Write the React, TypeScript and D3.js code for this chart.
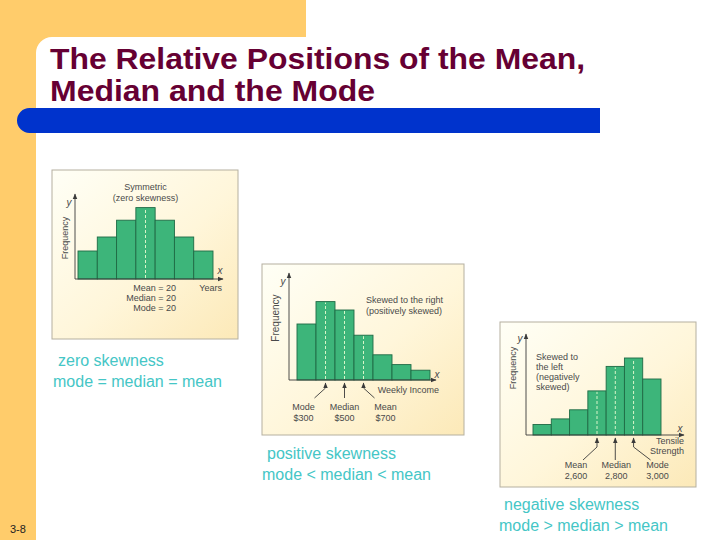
import React from 'react';
import * as d3 from 'd3';

// ---------- data ----------
const bins = ['b1', 'b2', 'b3', 'b4', 'b5', 'b6', 'b7'];
const symmetricFreq = [2.0, 3.0, 4.2, 5.1, 4.2, 3.0, 2.0];
const rightSkewFreq = [4.0, 5.6, 5.0, 3.2, 1.8, 1.1, 0.7];
const leftSkewFreq = [0.75, 1.15, 1.8, 3.15, 4.9, 5.5, 4.0];

const symmetricStats = ['Mean = 20', 'Median = 20', 'Mode = 20'];
const symmetricCenterBin = 3;

const rightStatNames = ['Mode', 'Median', 'Mean'];
const rightStatValues = ['$300', '$500', '$700'];
const rightStatBins = [1, 2, 3];

const leftStatNames = ['Mean', 'Median', 'Mode'];
const leftStatValues = ['2,600', '2,800', '3,000'];
const leftStatBins = [3, 4, 5];

const titleLines = ['The Relative Positions of the Mean,', 'Median and the Mode'];
const captions = [
  ['zero skewness', 'mode = median = mean'],
  ['positive skewness', 'mode < median < mean'],
  ['negative skewness', 'mode > median > mean'],
];

// ---------- style ----------
const FONT = "'Liberation Sans', Arial, sans-serif";
const ORANGE = '#FFCC6B';
const BLUE = '#0033CC';
const TITLE = '#660033';
const TEAL = '#45C6C6';
const BAR = '#3DB57A';
const BAR_STROKE = '#1F6A45';
const AXIS = '#3a3a3a';
const TXT = '#4a4a4a';
const PX_PER_UNIT = 14;

type PanelProps = {
  id: string;
  box: [number, number, number, number];
  yAxisX: number;
  yTop: number;
  base: number;
  xEnd: number;
  barX0: number;
  barX1: number;
  values: number[];
  dashed: number[];
  freqX: number;
  freqY: number;
  freqSize: number;
  yLabel: [number, number];
  xLabel: [number, number];
  children?: (x: d3.ScaleBand<string>, y: d3.ScaleLinear<number, number>) => React.ReactNode;
};

function Panel(p: PanelProps) {
  const x = d3.scaleBand<string>().domain(bins).range([p.barX0, p.barX1]).padding(0);
  const yMax = 6;
  const y = d3.scaleLinear().domain([0, yMax]).range([p.base, p.base - yMax * PX_PER_UNIT]);
  const [bx, by, bw, bh] = p.box;
  return (
    <g>
      <rect x={bx} y={by} width={bw} height={bh} fill={`url(#bg-${p.id})`} stroke="#b5b0a0" strokeWidth={1} />
      {p.values.map((v, i) => (
        <rect
          key={i}
          x={x(bins[i])}
          y={y(v)}
          width={x.bandwidth()}
          height={y(0) - y(v)}
          fill={BAR}
          stroke={BAR_STROKE}
          strokeWidth={0.9}
        />
      ))}
      {p.dashed.map((i) => {
        const cx = (x(bins[i]) as number) + x.bandwidth() / 2;
        return (
          <line
            key={'d' + i}
            x1={cx}
            x2={cx}
            y1={y(0) - 1}
            y2={y(p.values[i]) + 1}
            stroke="#d8f5c8"
            strokeWidth={1}
            strokeDasharray="3,2"
          />
        );
      })}
      <line x1={p.yAxisX} x2={p.yAxisX} y1={p.base} y2={p.yTop} stroke={AXIS} strokeWidth={0.9} markerEnd="url(#ah)" />
      <line x1={p.yAxisX} x2={p.xEnd} y1={p.base} y2={p.base} stroke={AXIS} strokeWidth={0.9} markerEnd="url(#ah)" />
      <text x={p.yLabel[0]} y={p.yLabel[1]} fontSize={10} fontStyle="italic" fill={TXT} fontFamily={FONT} textAnchor="middle">y</text>
      <text x={p.xLabel[0]} y={p.xLabel[1]} fontSize={10} fontStyle="italic" fill={TXT} fontFamily={FONT} textAnchor="middle">x</text>
      <text
        transform={`translate(${p.freqX},${p.freqY}) rotate(-90)`}
        fontSize={p.freqSize}
        fill={TXT}
        fontFamily={FONT}
        textAnchor="middle"
      >
        Frequency
      </text>
      {p.children && p.children(x, y)}
    </g>
  );
}

function StatArrows(props: {
  x: d3.ScaleBand<string>;
  base: number;
  binsIdx: number[];
  dx: number[];
  knee: number;
  end: number;
  labelDx: number[];
  labelY: number;
  names: string[];
  values: string[];
}) {
  const { x } = props;
  return (
    <g>
      {props.binsIdx.map((b, k) => {
        const cx = (x(bins[b]) as number) + x.bandwidth() / 2;
        const d = props.dx[k];
        const pts =
          d === 0
            ? [[cx, props.base + props.end], [cx, props.base + 3]]
            : [[cx + d, props.base + props.end], [cx, props.base + props.knee], [cx, props.base + 3]];
        const line = d3.line()(pts as [number, number][]) as string;
        return (
          <g key={k}>
            <path d={line} fill="none" stroke={AXIS} strokeWidth={0.9} markerEnd="url(#ah)" />
            <text x={cx + props.labelDx[k]} y={props.labelY} fontSize={9} fill={TXT} fontFamily={FONT} textAnchor="middle">
              {props.names[k]}
            </text>
            <text x={cx + props.labelDx[k]} y={props.labelY + 10.5} fontSize={9} fill={TXT} fontFamily={FONT} textAnchor="middle">
              {props.values[k]}
            </text>
          </g>
        );
      })}
    </g>
  );
}

export default function App() {
  const whitePath = `M ${36 + 16},37 H 306 V 0 H 720 V 540 H 36 V ${37 + 16} A 16 16 0 0 1 ${36 + 16} 37 Z`;
  const bluePath = `M 600,108 H 29.5 A 12.5 12.5 0 0 0 29.5 133 H 600 Z`;
  const panelIds = ['p1', 'p2', 'p3'];
  return (
    <svg
      width={720}
      height={540}
      viewBox="0 0 720 540"
      style={{ position: 'absolute', left: 0, top: 0, display: 'block' }}
    >
      <defs>
        {panelIds.map((id) => (
          <linearGradient key={id} id={`bg-${id}`} x1="0" y1="0" x2="1" y2="1">
            <stop offset="0%" stopColor="#FFFFF6" />
            <stop offset="55%" stopColor="#FFF6DA" />
            <stop offset="100%" stopColor="#FCE9B8" />
          </linearGradient>
        ))}
        <marker id="ah" viewBox="0 0 10 10" refX="9" refY="5" markerWidth="6" markerHeight="6" orient="auto" markerUnits="userSpaceOnUse">
          <path d="M0,1 L10,5 L0,9 Z" fill={AXIS} />
        </marker>
      </defs>

      <rect x={0} y={0} width={720} height={540} fill={ORANGE} />
      <path d={whitePath} fill="#ffffff" />
      <path d={bluePath} fill={BLUE} />

      <text x={50} y={69} fontSize={29} fontWeight="bold" fill={TITLE} fontFamily={FONT} textLength={535} lengthAdjust="spacingAndGlyphs">
        {titleLines[0]}
      </text>
      <text x={50} y={101} fontSize={29} fontWeight="bold" fill={TITLE} fontFamily={FONT} textLength={325} lengthAdjust="spacingAndGlyphs">
        {titleLines[1]}
      </text>

      {/* Panel 1: symmetric */}
      <Panel
        id="p1"
        box={[52, 170, 186, 169]}
        yAxisX={75}
        yTop={194}
        base={279}
        xEnd={223}
        barX0={78}
        barX1={213}
        values={symmetricFreq}
        dashed={[symmetricCenterBin]}
        freqX={68}
        freqY={238}
        freqSize={9}
        yLabel={[69, 206]}
        xLabel={[220, 274]}
      >
        {(x) => {
          const cx = (x(bins[symmetricCenterBin]) as number) + x.bandwidth() / 2;
          return (
            <g fontFamily={FONT} fill={TXT} fontSize={9}>
              <text x={cx} y={190} textAnchor="middle">Symmetric</text>
              <text x={cx} y={201} textAnchor="middle">(zero skewness)</text>
              {symmetricStats.map((s, i) => (
                <text key={i} x={176} y={291 + i * 10} textAnchor="end">{s}</text>
              ))}
              <text x={222} y={291} textAnchor="end">Years</text>
            </g>
          );
        }}
      </Panel>

      {/* Panel 2: right skewed */}
      <Panel
        id="p2"
        box={[262, 264, 202, 171]}
        yAxisX={289}
        yTop={273}
        base={380}
        xEnd={436}
        barX0={297}
        barX1={430}
        values={rightSkewFreq}
        dashed={rightStatBins}
        freqX={279}
        freqY={318}
        freqSize={10}
        yLabel={[283, 285]}
        xLabel={[437, 378]}
      >
        {(x) => (
          <g>
            <g fontFamily={FONT} fill={TXT} fontSize={9}>
              <text x={366} y={303}>Skewed to the right</text>
              <text x={366} y={314}>(positively skewed)</text>
              <text x={439} y={393} textAnchor="end">Weekly Income</text>
            </g>
            <StatArrows
              x={x}
              base={380}
              binsIdx={rightStatBins}
              dx={[-11, 0, 11]}
              knee={8}
              end={18}
              labelDx={[-22, 0, 22]}
              labelY={410}
              names={rightStatNames}
              values={rightStatValues}
            />
          </g>
        )}
      </Panel>

      {/* Panel 3: left skewed */}
      <Panel
        id="p3"
        box={[500, 322, 196, 165]}
        yAxisX={526}
        yTop={334}
        base={435}
        xEnd={684}
        barX0={533}
        barX1={661}
        values={leftSkewFreq}
        dashed={leftStatBins}
        freqX={516}
        freqY={368}
        freqSize={9}
        yLabel={[520, 342]}
        xLabel={[680, 432]}
      >
        {(x) => (
          <g>
            <g fontFamily={FONT} fill={TXT} fontSize={9}>
              <text x={536} y={360}>Skewed to</text>
              <text x={536} y={370}>the left</text>
              <text x={536} y={380}>(negatively</text>
              <text x={536} y={390}>skewed)</text>
              <text x={684} y={444} textAnchor="end">Tensile</text>
              <text x={684} y={454} textAnchor="end">Strength</text>
            </g>
            <StatArrows
              x={x}
              base={435}
              binsIdx={leftStatBins}
              dx={[-14, 0, 17]}
              knee={12}
              end={25}
              labelDx={[-21, 1, 24]}
              labelY={468}
              names={leftStatNames}
              values={leftStatValues}
            />
          </g>
        )}
      </Panel>

      {/* captions */}
      <g fontFamily={FONT} fill={TEAL} fontSize={16}>
        <text x={58} y={366}>{captions[0][0]}</text>
        <text x={53} y={387}>{captions[0][1]}</text>
        <text x={267} y={459}>{captions[1][0]}</text>
        <text x={262} y={480}>{captions[1][1]}</text>
        <text x={504} y={510}>{captions[2][0]}</text>
        <text x={499} y={531}>{captions[2][1]}</text>
      </g>

      <text x={10} y={533} fontSize={11} fill="#222" fontFamily={FONT}>3-8</text>
    </svg>
  );
}
